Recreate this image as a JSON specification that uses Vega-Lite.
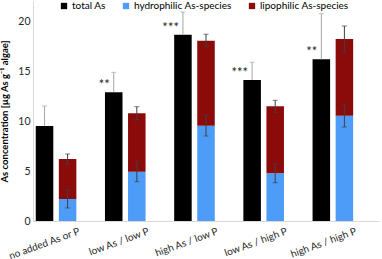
{
  "$schema": "https://vega.github.io/schema/vega-lite/v6.json",
  "width": 346,
  "height": 220,
  "autosize": {"type": "none"},
  "padding": {"left": 33, "top": 1, "right": 3, "bottom": 38},
  "background": "white",
  "config": {
    "font": "Lato",
    "view": {"stroke": null},
    "axis": {"labelFont": "Lato", "titleFont": "Lato"}
  },
  "data": {
    "values": [
      {"group": "no added As or P", "series": "total As", "slot": "a", "value": 9.5, "lo": 9.5, "hi": 11.5, "star": ""},
      {"group": "no added As or P", "series": "hydrophilic As-species", "slot": "b", "value": 2.2, "lo": 1.3, "hi": 3.1, "star": ""},
      {"group": "no added As or P", "series": "lipophilic As-species", "slot": "b", "value": 4.0, "lo": 5.7, "hi": 6.7, "star": ""},
      {"group": "low As / low P", "series": "total As", "slot": "a", "value": 12.87, "lo": 12.87, "hi": 14.87, "star": "**"},
      {"group": "low As / low P", "series": "hydrophilic As-species", "slot": "b", "value": 4.93, "lo": 3.93, "hi": 5.93, "star": ""},
      {"group": "low As / low P", "series": "lipophilic As-species", "slot": "b", "value": 5.84, "lo": 10.1, "hi": 11.43, "star": ""},
      {"group": "high As / low P", "series": "total As", "slot": "a", "value": 18.63, "lo": 18.63, "hi": 20.9, "star": "***"},
      {"group": "high As / low P", "series": "hydrophilic As-species", "slot": "b", "value": 9.53, "lo": 8.5, "hi": 10.6, "star": ""},
      {"group": "high As / low P", "series": "lipophilic As-species", "slot": "b", "value": 8.5, "lo": 17.43, "hi": 18.67, "star": ""},
      {"group": "low As / high P", "series": "total As", "slot": "a", "value": 14.1, "lo": 14.1, "hi": 15.87, "star": "***"},
      {"group": "low As / high P", "series": "hydrophilic As-species", "slot": "b", "value": 4.77, "lo": 3.83, "hi": 5.7, "star": ""},
      {"group": "low As / high P", "series": "lipophilic As-species", "slot": "b", "value": 6.7, "lo": 10.83, "hi": 12.07, "star": ""},
      {"group": "high As / high P", "series": "total As", "slot": "a", "value": 16.17, "lo": 16.17, "hi": 20.73, "star": "**"},
      {"group": "high As / high P", "series": "hydrophilic As-species", "slot": "b", "value": 10.53, "lo": 9.4, "hi": 11.67, "star": ""},
      {"group": "high As / high P", "series": "lipophilic As-species", "slot": "b", "value": 7.67, "lo": 16.93, "hi": 19.5, "star": ""}
    ]
  },
  "encoding": {
    "x": {
      "field": "group", "type": "nominal", "sort": null,
      "scale": {"paddingInner": 0, "paddingOuter": 0},
      "axis": {"title": null, "labelAngle": -20, "labelAlign": "right", "labelOffset": 10, "labelFontSize": 10, "labelColor": "#262626", "ticks": false, "domainColor": "#d9d9d9", "labelPadding": 5}
    },
    "xOffset": {
      "field": "slot", "type": "nominal",
      "scale": {"domain": ["a", "b", "c"], "paddingInner": 0.24, "paddingOuter": 0.12}
    }
  },
  "layer": [
    {
      "mark": {"type": "bar"},
      "encoding": {
        "y": {
          "field": "value", "type": "quantitative", "stack": "zero",
          "scale": {"domain": [0, 22], "nice": false},
          "axis": {"title": "As concentration [µg As g⁻¹ algae]", "titleFontSize": 9.5, "titleFontWeight": "bold", "titleColor": "#000000", "titlePadding": 8, "values": [0, 5, 10, 15, 20], "labelFontSize": 10.5, "labelColor": "#262626", "ticks": false, "grid": false, "domainColor": "#d9d9d9", "labelPadding": 3}
        },
        "color": {
          "field": "series", "type": "nominal",
          "scale": {"domain": ["total As", "hydrophilic As-species", "lipophilic As-species"], "range": ["#000000", "#4d9cf7", "#8b0b0b"]},
          "legend": {"title": null, "orient": "none", "legendX": 26, "legendY": 0, "direction": "horizontal", "symbolType": "square", "symbolSize": 40, "symbolStrokeWidth": 0, "labelFontSize": 10, "labelColor": "#000000", "labelOffset": 3, "columnPadding": 15}
        },
        "order": {"field": "series", "sort": "ascending"}
      }
    },
    {
      "transform": [{"filter": "datum.series === 'total As'"}],
      "mark": {"type": "rule", "color": "#a6a6a6", "strokeWidth": 1},
      "encoding": {"y": {"field": "lo", "type": "quantitative"}, "y2": {"field": "hi"}}
    },
    {
      "transform": [{"filter": "datum.series === 'total As'"}],
      "mark": {"type": "tick", "color": "#a6a6a6", "size": 5, "thickness": 1},
      "encoding": {"y": {"field": "hi", "type": "quantitative"}}
    },
    {
      "transform": [{"filter": "datum.series !== 'total As'"}],
      "mark": {"type": "rule", "color": "#404040", "strokeWidth": 1},
      "encoding": {"y": {"field": "lo", "type": "quantitative"}, "y2": {"field": "hi"}}
    },
    {
      "transform": [{"filter": "datum.series !== 'total As'"}],
      "mark": {"type": "tick", "color": "#404040", "size": 5, "thickness": 1},
      "encoding": {"y": {"field": "hi", "type": "quantitative"}}
    },
    {
      "transform": [{"filter": "datum.series !== 'total As'"}],
      "mark": {"type": "tick", "color": "#404040", "size": 5, "thickness": 1},
      "encoding": {"y": {"field": "lo", "type": "quantitative"}}
    },
    {
      "transform": [{"filter": "datum.star !== ''"}],
      "mark": {"type": "text", "align": "right", "baseline": "middle", "dx": -4, "dy": -7, "fontSize": 13, "color": "#262626"},
      "encoding": {
        "y": {"field": "value", "type": "quantitative"},
        "text": {"field": "star"}
      }
    }
  ]
}
